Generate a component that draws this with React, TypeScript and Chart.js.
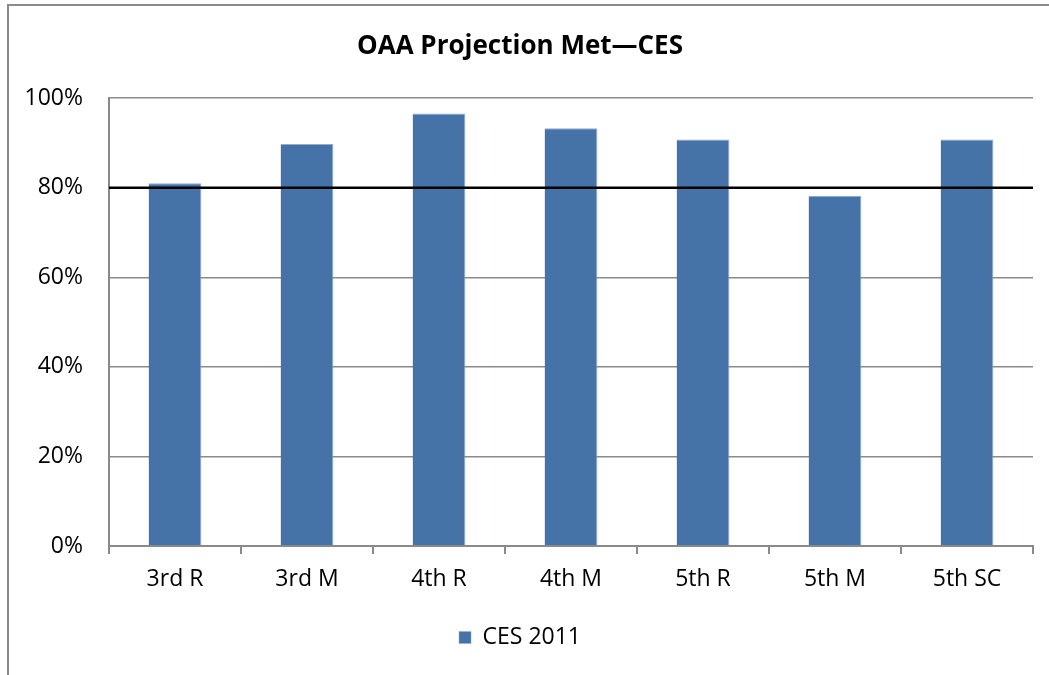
import React, { useEffect, useRef } from "react";
import { Chart, registerables } from "chart.js";

Chart.register(...registerables);

const categories = ["3rd R", "3rd M", "4th R", "4th M", "5th R", "5th M", "5th SC"];
const ces2011 = [81, 89.8, 96.6, 93.3, 90.8, 78.2, 90.8];
const seriesLabel = "CES 2011";
const targetValue = 80;
const titleText = "OAA Projection Met\u2014CES";
const yTicks = [0, 20, 40, 60, 80, 100];

const FONT = "'Open Sans', 'Noto Sans', sans-serif";
const GRID = "#8a8a8a";

const frameAndTarget = {
  id: "frameAndTarget",
  beforeDraw(chart: any) {
    const ctx = chart.ctx;
    ctx.save();
    ctx.fillStyle = "#ffffff";
    ctx.fillRect(0, 0, chart.width, chart.height);
    ctx.strokeStyle = GRID;
    ctx.lineWidth = 2;
    ctx.strokeRect(8, 5, chart.width + 50, chart.height + 50);
    ctx.restore();
  },
  afterDatasetsDraw(chart: any) {
    const ctx = chart.ctx;
    const y = chart.scales.y.getPixelForValue(targetValue);
    const { left, right } = chart.chartArea;
    ctx.save();
    ctx.strokeStyle = "#000000";
    ctx.lineWidth = 2.5;
    ctx.beginPath();
    ctx.moveTo(left, y);
    ctx.lineTo(right, y);
    ctx.stroke();
    ctx.restore();
  },
};

export default function App() {
  const ref = useRef<HTMLCanvasElement | null>(null);
  useEffect(() => {
    if (!ref.current) return;
    const chart = new Chart(ref.current, {
      type: "bar",
      data: {
        labels: categories,
        datasets: [
          {
            label: seriesLabel,
            data: ces2011,
            backgroundColor: "#4572a7",
            borderColor: "#8fabd0",
            borderWidth: { top: 1, right: 1, left: 0, bottom: 0 } as any,
            barPercentage: 0.4,
            categoryPercentage: 1,
          },
        ],
      },
      plugins: [frameAndTarget],
      options: {
        animation: false,
        responsive: true,
        maintainAspectRatio: false,
        layout: { padding: { left: 7, right: 16, top: 4, bottom: 16 } },
        plugins: {
          title: {
            display: true,
            text: titleText,
            color: "#000000",
            font: { family: FONT, size: 26, weight: "bold", lineHeight: 1.2 },
            padding: { top: 27, bottom: 36 },
          },
          legend: {
            display: true,
            position: "bottom",
            labels: {
              color: "#000000",
              font: { family: FONT, size: 23 },
              boxWidth: 12,
              boxHeight: 12,
              padding: 10,
            },
          },
          tooltip: { enabled: false },
        },
        scales: {
          x: {
            grid: {
              display: true,
              drawOnChartArea: false,
              drawTicks: true,
              tickLength: 8,
              color: GRID,
              lineWidth: 2,
              offset: true,
            },
            border: { display: true, color: GRID, width: 2 },
            ticks: {
              color: "#000000",
              font: { family: FONT, size: 23 },
              padding: 12,
              maxRotation: 0,
            },
            afterFit(scale: any) {
              scale.height = 70;
            },
          },
          y: {
            min: 0,
            max: 100,
            afterBuildTicks(scale: any) {
              scale.ticks = yTicks.map((v) => ({ value: v }));
            },
            grid: {
              color: GRID,
              lineWidth: 1.5,
              drawTicks: false,
            },
            border: { display: true, color: GRID, width: 2 },
            ticks: {
              color: "#000000",
              font: { family: FONT, size: 23 },
              padding: 26,
              callback: (v: any) => v + "%",
            },
            afterFit(scale: any) {
              scale.width = 102;
            },
          },
        },
      },
    });
    return () => chart.destroy();
  }, []);
  return (
    <div style={{ position: "absolute", left: 0, top: 0, width: 1049, height: 675, background: "#fff" }}>
      <canvas ref={ref} />
    </div>
  );
}
